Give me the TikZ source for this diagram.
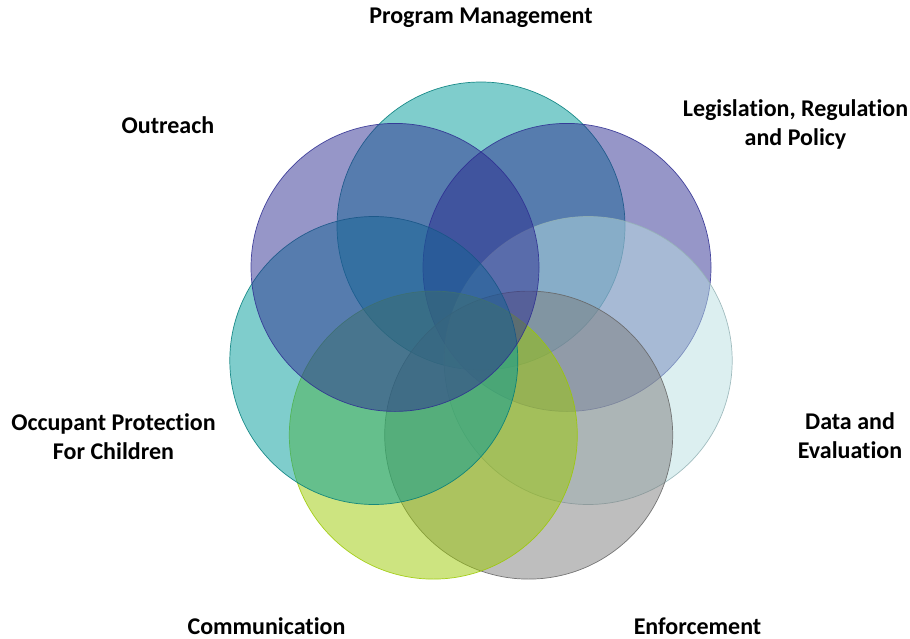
\documentclass[tikz,border=0pt]{standalone}
\usepackage{fontspec}
\setmainfont{Carlito}[Ligatures=NoCommon]

\definecolor{tealpm}{RGB}{0,155,153}
\definecolor{purplelr}{RGB}{45,45,145}
\definecolor{bluede}{RGB}{185,223,226}
\definecolor{grayen}{RGB}{125,125,125}
\definecolor{greenco}{RGB}{155,201,1}

\begin{document}
\begin{tikzpicture}[x=1pt,y=-1pt,
    ring/.style={line width=0.7pt, fill opacity=0.5, draw opacity=0.85},
    label/.style={font=\fontsize{24}{29}\selectfont\bfseries, align=center, inner sep=0pt}]
    \useasboundingbox (0,0) rectangle (910,639);

    % Define coordinates for the circle centres
    \coordinate (PM) at (481,226);
    \coordinate (LR) at (567,267.4);
    \coordinate (DE) at (588.2,360.5);
    \coordinate (EN) at (528.7,435.1);
    \coordinate (CO) at (433.3,435.1);
    \coordinate (OP) at (373.8,360.5);
    \coordinate (OR) at (395,267.4);

    % Draw the circles, clockwise from the top
    \filldraw[ring, fill=tealpm, draw=tealpm!80!black] (PM) circle[radius=144pt];
    \filldraw[ring, fill=purplelr, draw=purplelr] (LR) circle[radius=144pt];
    \filldraw[ring, fill=bluede, draw=bluede!80!black] (DE) circle[radius=144pt];
    \filldraw[ring, fill=grayen, draw=grayen!80!black] (EN) circle[radius=144pt];
    \filldraw[ring, fill=greenco, draw=greenco] (CO) circle[radius=144pt];
    \filldraw[ring, fill=tealpm, draw=tealpm!80!black] (OP) circle[radius=144pt];
    \filldraw[ring, fill=purplelr, draw=purplelr] (OR) circle[radius=144pt];

    % Add labels
    \node[label] (pmlabel) at (481,18) {Program Management};
    \node[label] (lrlabel) at (795.5,124.5) {Legislation, Regulation\\and Policy};
    \node[label] (delabel) at (850,435.5) {Data and\\Evaluation};
    \node[label] (enlabel) at (697.5,626) {Enforcement};
    \node[label] (colabel) at (266.5,626) {Communication};
    \node[label] (oplabel) at (113.5,437) {Occupant Protection\\For Children};
    \node[label] (orlabel) at (168,125) {Outreach};

\end{tikzpicture}
\end{document}
